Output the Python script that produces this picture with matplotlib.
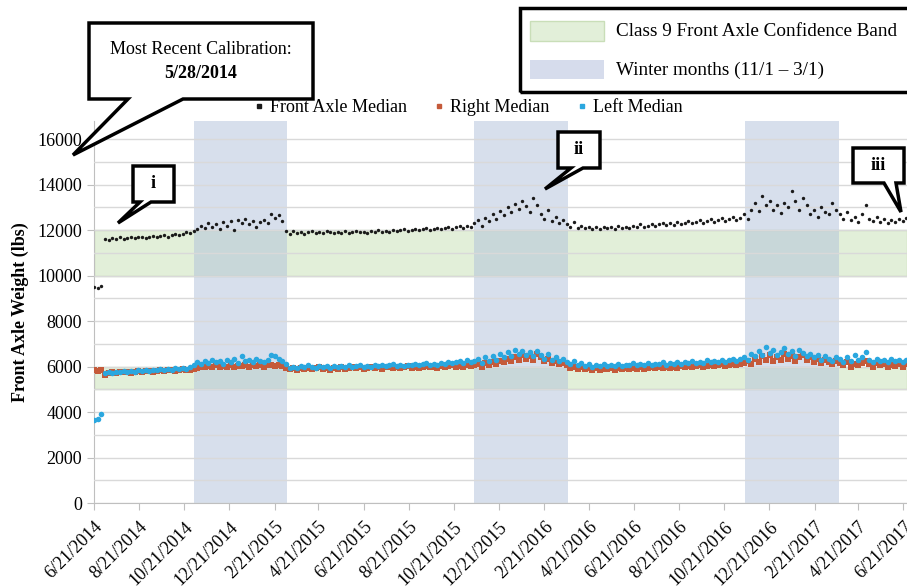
import pandas as pd
import matplotlib
matplotlib.use("Agg")
import matplotlib.pyplot as plt
from matplotlib.patches import Polygon, Rectangle
from matplotlib.lines import Line2D

plt.rcParams['font.family'] = ['Liberation Serif', 'DejaVu Serif']

# readings every 5 days starting 6/21/2014
start_date = "2014-06-21"
step_days = 5

front_median = [
    9500, 9450, 9550,
    11620, 11580, 11650, 11600, 11680, 11620, 11650, 11700, 11640, 11680, 11720, 11660,
    11700, 11760, 11700, 11740, 11800, 11720, 11780, 11850, 11800, 11830, 11900, 11860,
    11950, 12050, 12200, 12100, 12300, 12150, 12250, 12050, 12350, 12200, 12400, 12000, 12450,
    12300, 12500, 12250, 12400, 12150, 12350, 12450, 12300, 12700, 12550, 12650, 12400, 11950,
    11850, 11950, 11880, 11920, 11850, 11900, 11950, 11870, 11920, 11880, 11950, 11900, 11860,
    11930, 11890, 11950, 11880, 11920, 11960, 11900, 11940, 11880, 11960, 11920, 11990, 11930,
    11970, 11920, 12000, 11960, 11990, 12030, 11970, 12020, 12050, 11990, 12040, 12080, 12020,
    12060, 12100, 12040, 12090, 12130, 12070, 12120, 12180, 12100, 12200, 12150,
    12300, 12450, 12200, 12550, 12400, 12700, 12500, 12850, 12650, 13000, 12800, 13150, 12950,
    13300, 13050, 12800, 13400, 13100, 12700, 12500, 12900, 12400, 12600, 12300, 12450,
    12250, 12150, 12350, 12100, 12200, 12080, 12150, 12050, 12120, 12060, 12150, 12080, 12130,
    12070, 12180, 12100, 12160, 12090, 12200, 12120, 12250, 12150, 12200, 12280, 12180, 12250,
    12320, 12220, 12300, 12240, 12350, 12270, 12330, 12400, 12300, 12380, 12450, 12320, 12420,
    12500, 12380, 12450, 12550, 12420, 12500, 12600, 12450, 12550,
    12700, 12500, 12900, 13200, 12850, 13500, 13100, 13300, 12900, 13100, 12750, 13200, 13000,
    13700, 13300, 12900, 13400, 13100, 12700, 12900, 12600, 13000, 12800, 12700, 13200, 12900,
    12700, 12500, 12800, 12450, 12600, 12350, 12700, 13100, 12500, 12400, 12600, 12350, 12500,
    12300, 12450, 12350, 12500, 12400, 12550,
]

right_median = [
    5850, 5820, 5860,
    5620, 5700, 5750, 5720, 5760, 5740, 5780, 5730, 5770, 5800, 5750, 5790,
    5820, 5770, 5810, 5840, 5790, 5830, 5860, 5810, 5850, 5880, 5830, 5870,
    5900, 5950, 6000, 5980, 6020, 5960, 6050, 5990, 6030, 6000, 6060, 5970, 6040,
    6010, 6080, 5990, 6050, 6020, 6070, 6000, 6060, 6090, 6030, 6070, 6010, 5950,
    5880, 5920, 5860, 5940, 5900, 5950, 5880, 5930, 5960, 5900, 5940, 5870, 5950,
    5910, 5960, 5890, 5940, 5980, 5920, 5960, 5900, 5950, 5990, 5930, 5970, 5910,
    5960, 6000, 5940, 5980, 5920, 5970, 6010, 5950, 5990, 5930, 5980, 6020, 5960,
    6000, 5950, 6030, 5980, 6010, 6050, 5990, 6040, 6000, 6070, 6030,
    6050, 6120, 6000, 6150, 6080, 6200, 6100, 6250, 6180, 6350, 6250, 6400, 6300,
    6500, 6350, 6450, 6300, 6550, 6400, 6250, 6350, 6150, 6250, 6100, 6150,
    6050, 5950, 6000, 5900, 5960, 5880, 5930, 5870, 5920, 5860, 5910, 5880, 5940,
    5870, 5920, 5890, 5950, 5880, 5930, 5900, 5960, 5890, 5940, 5980, 5920, 5970,
    5930, 6000, 5950, 5990, 5940, 6010, 5970, 6030, 5980, 6020, 6060, 5990, 6040,
    6080, 6010, 6060, 6100, 6030, 6080, 6120, 6050, 6100,
    6150, 6250, 6100, 6350, 6200, 6450, 6300, 6500, 6250, 6400, 6300, 6550, 6350,
    6450, 6250, 6400, 6500, 6300, 6400, 6200, 6350, 6150, 6300, 6200, 6100, 6250,
    6150, 6050, 6200, 6000, 6100, 6050, 6150, 6250, 6100, 6000, 6150, 6050, 6100,
    5980, 6080, 6030, 6120, 6000, 6100,
]

left_median = [
    3650, 3680, 3900,
    5700, 5760, 5720, 5780, 5740, 5800, 5760, 5820, 5780, 5840, 5800, 5850,
    5810, 5870, 5830, 5890, 5850, 5900, 5870, 5920, 5880, 5950, 5910, 5980,
    6050, 6200, 6100, 6250, 6150, 6300, 6180, 6250, 6120, 6300, 6200, 6350, 6150,
    6450, 6250, 6300, 6200, 6350, 6250, 6200, 6300, 6500, 6450, 6350, 6250, 6100,
    5950, 6000, 5930, 6020, 5960, 6050, 5980, 5940, 6030, 5970, 6010, 5950, 6040,
    5980, 6020, 5960, 6050, 5990, 6030, 6070, 6000, 6040, 5980, 6060, 6020, 6080,
    6010, 6050, 6100, 6030, 6070, 6010, 6090, 6050, 6120, 6060, 6100, 6150, 6080,
    6130, 6070, 6160, 6110, 6200, 6140, 6180, 6250, 6160, 6300, 6200,
    6250, 6350, 6150, 6400, 6250, 6450, 6300, 6550, 6400, 6650, 6450, 6750, 6550,
    6700, 6500, 6650, 6450, 6700, 6500, 6350, 6550, 6300, 6400, 6250, 6350,
    6200, 6100, 6250, 6050, 6150, 6020, 6100, 6000, 6080, 6030, 6100, 6010, 6070,
    6040, 6120, 6030, 6090, 6060, 6150, 6050, 6110, 6080, 6170, 6070, 6130, 6100,
    6200, 6090, 6160, 6120, 6220, 6110, 6180, 6140, 6250, 6150, 6210, 6170, 6280,
    6180, 6240, 6200, 6300, 6220, 6280, 6350, 6250, 6320,
    6400, 6300, 6550, 6450, 6700, 6500, 6850, 6600, 6750, 6500, 6650, 6800, 6550,
    6700, 6450, 6750, 6600, 6450, 6550, 6400, 6500, 6300, 6450, 6350, 6250, 6400,
    6350, 6200, 6400, 6250, 6500, 6300, 6400, 6650, 6300, 6200, 6350, 6250, 6300,
    6200, 6350, 6250, 6300, 6200, 6280,
]

# shaded periods
winter_starts = ["2014-11-03", "2015-11-18", "2016-11-19"]
winter_ends = ["2015-03-10", "2016-03-24", "2017-03-26"]
conf_bands = [(10000, 12000), (5000, 6000)]

tick_labels = ["6/21/2014", "8/21/2014", "10/21/2014", "12/21/2014", "2/21/2015",
               "4/21/2015", "6/21/2015", "8/21/2015", "10/21/2015", "12/21/2015",
               "2/21/2016", "4/21/2016", "6/21/2016", "8/21/2016", "10/21/2016",
               "12/21/2016", "2/21/2017", "4/21/2017", "6/21/2017"]

assert len(front_median) == len(right_median) == len(left_median)
dates = pd.date_range(start_date, periods=len(front_median), freq=f"{step_days}D")

W, H = 907, 587
fig = plt.figure(figsize=(W / 100, H / 100), dpi=100)
ax = fig.add_axes([94 / W, 1 - 503 / H, 1 - 94 / W, (503 - 121) / H])

green = "#e2efd9"
winter = (176 / 255, 192 / 255, 218 / 255)
for lo, hi in conf_bands:
    ax.axhspan(lo, hi, facecolor=green, edgecolor="#c9deb8", lw=1, zorder=0.3)
for s, e in zip(winter_starts, winter_ends):
    ax.axvspan(pd.Timestamp(s), pd.Timestamp(e), color=winter, alpha=0.5, lw=0, zorder=0.5)

ax.scatter(dates, right_median, s=16, marker="s", color="#c55a3a", lw=0, zorder=3)
ax.scatter(dates, left_median, s=16, marker="o", color="#2aa7df", lw=0, zorder=3.1)
ax.scatter(dates, front_median, s=6, marker="o", color="#1a1a1a", lw=0, zorder=3.2)

ax.set_ylim(0, 16800)
ax.set_xlim(pd.Timestamp("2014-06-21"), pd.Timestamp("2017-06-26"))
ax.set_yticks(range(0, 16001, 2000))
ax.set_yticks(range(1000, 16001, 2000), minor=True)
ax.tick_params(axis="y", which="minor", length=0)
ax.grid(True, which="both", axis="y", color="#d9d9d9", lw=1)
ax.set_axisbelow(False)

tick_pos = pd.to_datetime(tick_labels, format="%m/%d/%Y")
ax.set_xticks(tick_pos)
ax.set_xticklabels(tick_labels, rotation=45, ha="right", rotation_mode="anchor")
ax.tick_params(axis="x", length=5, color="#bfbfbf", labelsize=13, pad=6)
ax.tick_params(axis="y", length=5, color="#bfbfbf", labelsize=13)
for side in ["top", "right"]:
    ax.spines[side].set_visible(False)
for side in ["left", "bottom"]:
    ax.spines[side].set_color("#bfbfbf")
ax.set_ylabel("Front Axle Weight (lbs)", fontsize=13, fontweight="bold", labelpad=6)

# series legend
handles = [Line2D([], [], ls="", marker="s", ms=2.2, color="#1a1a1a"),
           Line2D([], [], ls="", marker="s", ms=3, color="#c55a3a"),
           Line2D([], [], ls="", marker="s", ms=3, color="#2aa7df")]
fig.legend(handles, ["Front Axle Median", "Right Median", "Left Median"],
           loc="center", bbox_to_anchor=(468 / W, 1 - 108 / H), ncol=3, frameon=False,
           fontsize=13, handlelength=0.6, handletextpad=0.3, columnspacing=1.5)


def px(x, y):
    return (x / W, 1 - y / H)


# band legend box
fig.patches.append(Rectangle(px(520, 92), 400 / W, 84 / H, transform=fig.transFigure,
                             fill=False, ec="black", lw=2.5))
fig.patches.append(Rectangle(px(530, 41), 74 / W, 20 / H, transform=fig.transFigure,
                             fc=green, ec="#c9deb8", lw=1))
fig.patches.append(Rectangle(px(530, 79), 74 / W, 19 / H, transform=fig.transFigure,
                             fc="#d6dcec", ec="none"))
fig.text(*px(616, 31), "Class 9 Front Axle Confidence Band", fontsize=13.8, va="center")
fig.text(*px(616, 70), "Winter months (11/1 \u2013 3/1)", fontsize=13.8, va="center")


def callout(points, text, tx, ty, **kw):
    fig.patches.append(Polygon([px(x, y) for x, y in points], closed=True,
                               transform=fig.transFigure, fc="white", ec="black",
                               lw=2.5, joinstyle="miter"))
    fig.text(*px(tx, ty), text, ha="center", va="center", fontsize=13, **kw)


callout([(89, 23), (313, 23), (313, 99), (183, 99), (73, 155), (128, 99), (89, 99)],
        "Most Recent Calibration:", 201, 49)
fig.text(*px(201, 74), "5/28/2014", ha="center", va="center", fontsize=13, fontweight="bold")
callout([(133, 166), (174, 166), (174, 202), (151, 202), (118, 223), (140, 202), (133, 202)],
        "i", 153, 184, fontweight="bold")
callout([(558, 132), (600, 132), (600, 168), (583, 168), (545, 189), (571, 168), (558, 168)],
        "ii", 579, 150, fontweight="bold")
callout([(853, 148), (904, 148), (904, 183), (896, 183), (901, 212), (884, 183), (853, 183)],
        "iii", 878, 166, fontweight="bold")

fig.savefig("out.png", dpi=100)
